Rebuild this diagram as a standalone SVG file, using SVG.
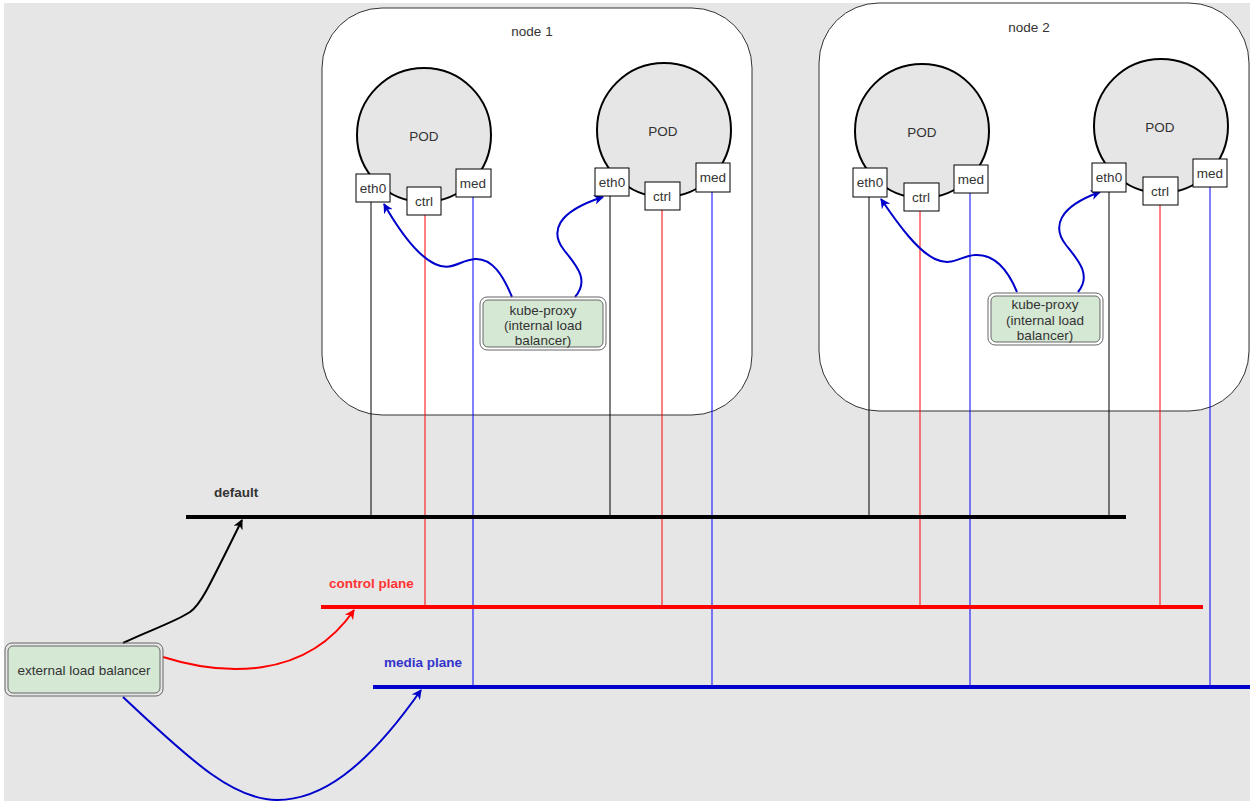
<svg xmlns="http://www.w3.org/2000/svg" width="1250" height="801" viewBox="0 0 1250 801">
<style>
text{font-family:"Liberation Sans",Arial,sans-serif;font-size:13.5px;fill:#333;text-anchor:middle}
.node{fill:#fff;stroke:#333;stroke-width:1}
.pod{fill:#e6e6e6;stroke:#000;stroke-width:2}
.port{fill:#fff;stroke:#000;stroke-width:1}
.lb-o{fill:none;stroke:#666;stroke-width:1}
.lb-i{fill:#d5e8d4;stroke:#666;stroke-width:1}
.vk{stroke:#000;stroke-width:1}
.vr{stroke:#ff0000;stroke-width:1}
.vb{stroke:#0000ff;stroke-width:1}
.bus{stroke-width:4;fill:none}
.arr{fill:none;stroke-width:2}
.lbl{font-weight:bold;text-anchor:start}
</style>
<defs>
<marker id="ab" viewBox="0 0 10 10" refX="9" refY="5" markerWidth="10" markerHeight="10" markerUnits="userSpaceOnUse" orient="auto"><path d="M0,0 L10,5 L0,10 L3,5 Z" fill="#0000cc"/></marker>
<marker id="ak" viewBox="0 0 10 10" refX="9" refY="5" markerWidth="10" markerHeight="10" markerUnits="userSpaceOnUse" orient="auto"><path d="M0,0 L10,5 L0,10 L3,5 Z" fill="#000"/></marker>
<marker id="ar" viewBox="0 0 10 10" refX="9" refY="5" markerWidth="10" markerHeight="10" markerUnits="userSpaceOnUse" orient="auto"><path d="M0,0 L10,5 L0,10 L3,5 Z" fill="#ff0000"/></marker>
</defs>
<rect x="0" y="0" width="1250" height="801" fill="#fff"/>
<rect x="4" y="3" width="1246" height="798" fill="#e6e6e6"/>

<g id="node1">
<rect class="node" x="322" y="8" width="430" height="407" rx="60" ry="60"/>
<text x="532" y="36">node 1</text>
</g>
<g id="node2">
<rect class="node" x="819" y="3" width="430" height="408" rx="60" ry="60"/>
<text x="1029" y="32">node 2</text>
</g>

<g id="connectors">
<line class="vk" x1="371" y1="202" x2="371" y2="517"/>
<line class="vr" x1="425" y1="215" x2="425" y2="607"/>
<line class="vb" x1="473" y1="197" x2="473" y2="687"/>
<line class="vk" x1="610" y1="196" x2="610" y2="517"/>
<line class="vr" x1="662" y1="210" x2="662" y2="607"/>
<line class="vb" x1="712" y1="192" x2="712" y2="687"/>
<line class="vk" x1="869" y1="197" x2="869" y2="517"/>
<line class="vr" x1="920" y1="211" x2="920" y2="607"/>
<line class="vb" x1="970" y1="193" x2="970" y2="687"/>
<line class="vk" x1="1109" y1="192" x2="1109" y2="517"/>
<line class="vr" x1="1160" y1="205" x2="1160" y2="607"/>
<line class="vb" x1="1210" y1="187" x2="1210" y2="687"/>

<line class="bus" x1="186" y1="517" x2="1126" y2="517" stroke="#000"/>
<line class="bus" x1="321" y1="607" x2="1203" y2="607" stroke="#ff0000"/>
<line class="bus" x1="373" y1="687" x2="1250" y2="687" stroke="#0000cc"/>

<path class="arr" stroke="#0000cc" marker-end="url(#ab)" d="M512,297 C503,275 492,258 475,259 C460,260 452,272 435,264 C418,256 400,232 384,204"/>
<path class="arr" stroke="#0000cc" marker-end="url(#ab)" d="M575,297 C590,280 576,265 564,250 C550,232 556,212 603,197"/>
<path class="arr" stroke="#0000cc" marker-end="url(#ab)" d="M1017,292 C1008,270 995,254 975,255 C960,256 952,267 935,259 C918,251 900,227 881,199"/>
<path class="arr" stroke="#0000cc" marker-end="url(#ab)" d="M1078,292 C1092,275 1078,260 1066,245 C1052,227 1058,207 1100,192"/>

<path class="arr" stroke="#000" marker-end="url(#ak)" d="M123,643 C150,630 175,622 190,612 C200,605 205,595 242,520"/>
<path class="arr" stroke="#ff0000" marker-end="url(#ar)" d="M163,657 C220,675 305,682 354,610"/>
<path class="arr" stroke="#0000cc" marker-end="url(#ab)" d="M123,697 C195,765 235,800 277,800 C320,800 365,770 421,690"/>
</g>

<g id="pod1-1">
<circle class="pod" cx="424" cy="135" r="67"/>
<text x="424" y="141">POD</text>
<rect class="port" x="356" y="174" width="34" height="28"/><text x="373" y="193">eth0</text>
<rect class="port" x="407" y="187" width="34" height="28"/><text x="424" y="206">ctrl</text>
<rect class="port" x="456" y="169" width="35" height="28"/><text x="473" y="188">med</text>
</g>
<g id="pod1-2">
<circle class="pod" cx="664" cy="130" r="67"/>
<text x="663" y="136">POD</text>
<rect class="port" x="595" y="168" width="34" height="28"/><text x="612" y="187">eth0</text>
<rect class="port" x="645" y="182" width="35" height="28"/><text x="662" y="201">ctrl</text>
<rect class="port" x="696" y="163" width="34" height="29"/><text x="713" y="182">med</text>
</g>
<g id="pod2-1">
<circle class="pod" cx="922" cy="131" r="67"/>
<text x="922" y="137">POD</text>
<rect class="port" x="853" y="168" width="34" height="29"/><text x="870" y="187">eth0</text>
<rect class="port" x="904" y="183" width="35" height="28"/><text x="921" y="202">ctrl</text>
<rect class="port" x="954" y="165" width="34" height="28"/><text x="971" y="184">med</text>
</g>
<g id="pod2-2">
<circle class="pod" cx="1161" cy="126" r="67"/>
<text x="1160" y="132">POD</text>
<rect class="port" x="1092" y="163" width="34" height="29"/><text x="1109" y="182">eth0</text>
<rect class="port" x="1143" y="177" width="35" height="28"/><text x="1160" y="196">ctrl</text>
<rect class="port" x="1193" y="159" width="34" height="28"/><text x="1210" y="178">med</text>
</g>

<g id="kube-proxy-1">
<rect class="lb-o" x="480" y="297" width="126" height="53" rx="7"/>
<rect class="lb-i" x="483" y="300" width="120" height="47" rx="5"/>
<text x="543" y="315">kube-proxy</text>
<text x="543" y="330">(internal load</text>
<text x="543" y="345">balancer)</text>
</g>
<g id="kube-proxy-2">
<rect class="lb-o" x="988" y="293" width="115" height="52" rx="7"/>
<rect class="lb-i" x="991" y="296" width="109" height="46" rx="5"/>
<text x="1045" y="309">kube-proxy</text>
<text x="1045" y="325">(internal load</text>
<text x="1045" y="340">balancer)</text>
</g>

<g id="external-lb">
<rect class="lb-o" x="5" y="643" width="158" height="53" rx="7"/>
<rect class="lb-i" x="8" y="646" width="152" height="47" rx="5"/>
<text x="84" y="675">external load balancer</text>
</g>

<g id="labels">
<text class="lbl" x="214" y="497">default</text>
<text class="lbl" x="329" y="588" style="fill:#ff3333">control plane</text>
<text class="lbl" x="384" y="667" style="fill:#3333cc">media plane</text>
</g>
</svg>
